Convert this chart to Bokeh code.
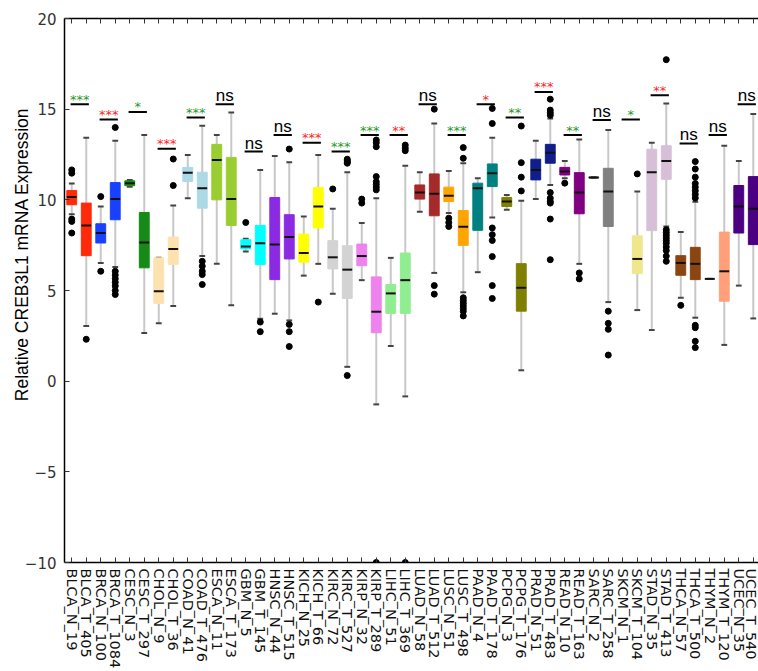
from bokeh.plotting import figure
from bokeh.models import Range1d, FixedTicker, LinearAxis, ColumnDataSource, Title
from bokeh.core.properties import value
from bokeh.transform import dodge
from bokeh.embed import file_html
from bokeh.resources import INLINE

# ---------------- data ----------------
names = ["BLCA_N_19", "BLCA_T_405", "BRCA_N_100", "BRCA_T_1084", "CESC_N_3", "CESC_T_297",
         "CHOL_N_9", "CHOL_T_36", "COAD_N_41", "COAD_T_476", "ESCA_N_11", "ESCA_T_173",
         "GBM_N_5", "GBM_T_145", "HNSC_N_44", "HNSC_T_515", "KICH_N_25", "KICH_T_66",
         "KIRC_N_72", "KIRC_T_527", "KIRP_N_32", "KIRP_T_289", "LIHC_N_51", "LIHC_T_369",
         "LUAD_N_58", "LUAD_T_512", "LUSC_N_51", "LUSC_T_498", "PAAD_N_4", "PAAD_T_178",
         "PCPG_N_3", "PCPG_T_176", "PRAD_N_51", "PRAD_T_483", "READ_N_10", "READ_T_163",
         "SARC_N_2", "SARC_T_258", "SKCM_N_1", "SKCM_T_104", "STAD_N_35", "STAD_T_413",
         "THCA_N_57", "THCA_T_500", "THYM_N_2", "THYM_T_120", "UCEC_N_35", "UCEC_T_540"]

tumor_colors = ["#ff2a0a", "#1a40ff", "#168a16", "#fde2b0", "#add8e6", "#9acd32",
                "#00ffff", "#8a2be2", "#ffff00", "#d3d3d3", "#ee82ee", "#90ee90",
                "#a52a2a", "#ffa500", "#008080", "#808000", "#101e8c", "#800080",
                "#808080", "#f0e68c", "#d8bfd8", "#8b4513", "#ffa07a", "#4b0082"]

whisk_lo = [9.2, 3.04, 6.52, 6.3, 10.72, 2.65, 3.2, 4.14, 10.09, 6.9, 6.47, 4.18,
            7.15, 3.44, 3.72, 3.35, 5.82, 6.47, 4.82, 0.79, 5.57, -1.28, 1.94, -0.84,
            9.34, 5.97, 9.27, 4.9, 6.01, 9.03, 9.45, 0.6, 10.04, 10.82, 11.19, 6.47,
            11.2, 4.36, None, 3.92, 2.82, 8.53, 4.6, 3.5, 5.64, 2.0, 5.27, 3.46]
q1 = [9.73, 6.92, 7.62, 8.90, 10.78, 6.25, 4.29, 6.43, 11.01, 9.54, 10.0, 8.59,
      7.29, 6.43, 5.60, 6.74, 6.56, 8.45, 6.19, 4.56, 6.37, 2.67, 3.74, 3.74,
      10.04, 9.12, 9.91, 7.49, 8.32, 10.73, 9.63, 3.86, 11.1, 12.02, 11.37, 9.23,
      11.2, 8.53, None, 5.93, 8.30, 11.13, 5.84, 5.60, 5.64, 4.41, 8.17, 7.53]
medians = [10.15, 8.59, 8.17, 10.04, 10.92, 7.65, 4.96, 7.29, 11.5, 10.64, 12.2, 10.05,
           7.42, 7.6, 7.53, 7.95, 7.07, 9.63, 6.83, 6.15, 6.9, 3.83, 4.84, 5.57,
           10.4, 10.33, 10.22, 8.52, 10.64, 11.47, 9.91, 5.15, 11.65, 12.6, 11.56, 10.4,
           11.23, 10.46, None, 6.74, 11.52, 12.14, 6.52, 6.47, 5.64, 6.06, 9.63, 9.51]
q3 = [10.51, 9.82, 8.68, 10.95, 11.05, 9.30, 6.80, 7.95, 11.79, 11.52, 13.06, 12.34,
      7.8, 8.59, 10.13, 9.18, 8.11, 10.68, 7.75, 7.47, 7.56, 5.75, 5.33, 7.07,
      10.82, 11.43, 10.7, 9.41, 10.92, 11.98, 10.13, 6.48, 12.24, 13.06, 11.79, 11.5,
      11.26, 11.74, None, 8.02, 12.79, 12.98, 6.92, 7.38, 5.64, 8.22, 10.79, 11.28]
whisk_hi = [10.9, 13.42, 9.63, 13.26, 11.1, 13.57, 6.80, 9.69, 12.47, 14.08, 13.57, 14.82,
            7.85, 11.65, 12.42, 12.07, 9.08, 12.47, 9.51, 11.52, 8.72, 10.09, 6.8, 11.88,
            11.52, 14.21, 11.59, 12.02, 11.19, 13.42, 10.27, 9.95, 13.26, 14.49, 12.14, 13.33,
            11.26, 13.85, None, 10.46, 13.15, 15.31, 8.22, 9.9, 5.64, 12.98, 12.14, 14.73]
outliers = [
    [11.65, 11.47, 8.94, 8.81, 8.17], [2.31], [10.18, 6.06],
    [13.99, 6.06, 5.85, 5.65, 5.45, 5.25, 5.0, 4.78], [], [], [], [10.79, 12.25], [],
    [6.61, 6.34, 6.06, 5.88, 5.33], [], [],
    [8.75], [3.26, 2.73], [], [12.8, 3.13, 2.73, 1.91], [], [4.36],
    [10.6], [12.24, 12.15, 12.08, 12.02, 0.31], [10.04, 9.82],
    [10.55, 10.7, 10.85, 11.0, 11.28, 12.93, 13.15, 13.30, -10.0], [],
    [12.71, 12.85, 13.02, -10.0],
    [], [15.0, 5.27, 4.8], [8.99, 8.75, 8.53],
    [12.29, 12.88, 4.6, 4.45, 4.3, 4.15, 4.0, 3.85, 3.6], [],
    [14.21, 15.04, 8.45, 8.08, 7.76, 6.87, 5.27, 4.56],
    [], [10.49, 11.25, 12.05, 14.07], [],
    [14.67, 14.8, 14.95, 15.55, 10.4, 10.09, 9.91, 9.82, 8.94, 6.7], [10.92], [5.97, 5.64],
    [], [3.86, 3.19, 2.86, 1.44], [], [11.43], [],
    [17.73, 8.35, 8.2, 8.05, 7.9, 7.75, 7.6, 7.4, 7.2, 6.9, 6.61], [4.18],
    [12.11, 11.7, 11.25, 10.9, 10.7, 10.5, 10.3, 10.1, 3.08, 2.95, 2.2, 1.85],
    [], [], [], [],
]

sig_y = [15.27, 14.43, 14.85, 12.82, 14.54, 15.27, 12.66, 13.57, 13.15, 12.66, 13.57, 13.57,
         15.27, 13.57, 15.27, 14.54, 15.95, 13.57, 14.4, 14.43, 15.77, 13.11, 13.57, 15.27]
sig_text = ["***", "***", "*", "***", "***", "ns", "ns", "ns", "***", "***", "***", "**",
            "ns", "***", "*", "**", "***", "**", "ns", "*", "**", "ns", "ns", "ns"]
sig_kind = ["up", "down", "up", "down", "up", "ns", "ns", "ns", "down", "up", "up", "down",
            "ns", "up", "down", "up", "down", "up", "ns", "up", "down", "ns", "ns", "ns"]

y_ticks = [-10, -5, 0, 5, 10, 15, 20]
y_label = "Relative CREB3L1 mRNA Expression"

# ---------------- build sources ----------------
positions = list(range(1, len(names) + 1))
box_colors = [tumor_colors[i // 2] for i in range(len(names))]

valid = [i for i in range(len(names)) if medians[i] is not None]
box_src = ColumnDataSource(dict(
    x=[positions[i] for i in valid],
    lo=[whisk_lo[i] for i in valid],
    q1=[q1[i] for i in valid],
    med=[medians[i] for i in valid],
    q3=[q3[i] for i in valid],
    hi=[whisk_hi[i] for i in valid],
    color=[box_colors[i] for i in valid],
))

ox, oy = [], []
for i, outs in enumerate(outliers):
    for v in outs:
        ox.append(positions[i])
        oy.append(v)

p = figure(width=758, height=671, x_range=Range1d(0.5, 48.36), y_range=Range1d(-10, 20),
           output_backend="svg", toolbar_location=None,
           min_border_left=64, min_border_right=0, min_border_top=18, min_border_bottom=107)
p.outline_line_color = None
p.xgrid.visible = False
p.ygrid.visible = False
p.background_fill_color = "white"
p.border_fill_color = "white"

half_box = 0.34
cap_half = 0.2
px = 30.0 / 546.0  # data units per screen pixel (y)

# whiskers
p.segment(x0="x", y0="lo", x1="x", y1="hi", source=box_src, line_color="#c8c8c8", line_width=2)
# caps
p.segment(x0=dodge("x", -cap_half), y0="lo", x1=dodge("x", cap_half), y1="lo",
          source=box_src, line_color="#444444", line_width=2)
p.segment(x0=dodge("x", -cap_half), y0="hi", x1=dodge("x", cap_half), y1="hi",
          source=box_src, line_color="#444444", line_width=2)
# boxes
p.vbar(x="x", bottom="q1", top="q3", width=2 * half_box, source=box_src,
       fill_color="color", line_color="color", line_width=1)
# medians
p.segment(x0=dodge("x", -half_box), y0="med", x1=dodge("x", half_box), y1="med",
          source=box_src, line_color="#111111", line_width=2)
# outliers
p.scatter(x=ox, y=oy, size=6, color="black")

# significance annotations
sig_x0 = [2 * k + 1 - 0.08 for k in range(len(sig_y))]
sig_x1 = [2 * k + 1 + 1.18 for k in range(len(sig_y))]
sig_xc = [(a + b) / 2 for a, b in zip(sig_x0, sig_x1)]
p.segment(x0=sig_x0, y0=sig_y, x1=sig_x1, y1=sig_y, line_color="black", line_width=2)

kind_color = {"up": "#1f9a1f", "down": "#ff1f1f"}
star_idx = [k for k in range(len(sig_y)) if sig_kind[k] != "ns"]
ns_idx = [k for k in range(len(sig_y)) if sig_kind[k] == "ns"]
p.text(x=[sig_xc[k] for k in star_idx], y=[sig_y[k] + 6 * px for k in star_idx],
       text=[sig_text[k] for k in star_idx],
       text_color=[kind_color[sig_kind[k]] for k in star_idx],
       text_align="center", text_baseline="alphabetic", y_offset=1,
       text_font=value("DejaVu Sans"), text_font_size="13px")
p.text(x=[sig_xc[k] for k in ns_idx], y=[sig_y[k] + 5.5 * px for k in ns_idx],
       text=[sig_text[k] for k in ns_idx], text_color="black",
       text_align="center", text_baseline="alphabetic", y_offset=-3,
       text_font=value("Liberation Sans"), text_font_size="17px")

# axes
xa = p.xaxis[0]
xa.ticker = FixedTicker(ticks=positions)
xa.major_label_overrides = {pos: n for pos, n in zip(positions, names)}
xa.major_label_orientation = "vertical"
xa.major_label_text_font = "DejaVu Sans"
xa.major_label_text_font_size = "14.5px"
xa.major_label_text_color = "#111111"
xa.major_label_standoff = 6
xa.major_tick_in = 5
xa.major_tick_out = 0
xa.minor_tick_line_color = None
xa.axis_line_color = "black"
xa.axis_line_width = 1.5
xa.major_tick_line_color = "#333333"

ya = p.yaxis[0]
ya.ticker = FixedTicker(ticks=y_ticks)
ya.major_label_text_font = "DejaVu Sans"
ya.major_label_text_font_size = "15px"
ya.major_label_text_color = "#333333"
ya.major_label_standoff = 8
ya.major_tick_in = 5
ya.major_tick_out = 0
ya.minor_tick_line_color = None
ya.axis_line_color = "black"
ya.axis_line_width = 1.5
ya.major_tick_line_color = "#333333"

top = LinearAxis(ticker=FixedTicker(ticks=positions), major_label_text_font_size="0px",
                 major_label_standoff=0, major_tick_in=5, major_tick_out=0,
                 minor_tick_line_color=None, axis_line_color="black", axis_line_width=1.5,
                 major_tick_line_color="#333333")
top.major_label_overrides = {pos: "" for pos in positions}
p.add_layout(top, "above")

# y-axis title (placed so that it sits higher than the frame centre, as in the original)
p.add_layout(Title(text=y_label, align="right", offset=89, standoff=-20,
                   text_font="Liberation Sans", text_font_size="17.5px",
                   text_font_style="normal", text_color="black"), "left")

open("out.html", "w").write(file_html(p, INLINE))
